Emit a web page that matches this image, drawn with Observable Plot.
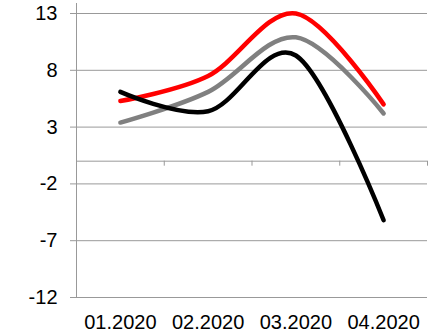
<!DOCTYPE html>
<html>
<head>
<meta charset="utf-8">
<script src="https://cdn.jsdelivr.net/npm/d3@7"></script>
<script src="https://cdn.jsdelivr.net/npm/@observablehq/plot@0.6"></script>
<style>
  html, body { margin: 0; padding: 0; background: #fff; }
</style>
</head>
<body>
<div id="chart"></div>
<script>
const months = ["01.2020", "02.2020", "03.2020", "04.2020"];
const redValues = [5.3, 7.5, 13.0, 5.0];
const grayValues = [3.4, 6.1, 10.9, 4.2];
const blackValues = [6.1, 4.4, 9.3, -5.2];
const yTicks = [-12, -7, -2, 3, 8, 13];

const series = [
  {name: "red", color: "#ff0000", values: redValues},
  {name: "gray", color: "#808080", values: grayValues},
  {name: "black", color: "#000000", values: blackValues}
];
const rows = series.flatMap(s => s.values.map((v, i) => ({series: s.name, color: s.color, i, v})));
const bounds = d3.range(months.length + 1).map(k => k - 0.5);

const chart = Plot.plot({
  width: 436,
  height: 332,
  marginLeft: 76,
  marginRight: 9,
  marginTop: 13,
  marginBottom: 35,
  style: {fontFamily: "'Liberation Sans', Arial, sans-serif", fontSize: "20px", color: "#000", background: "#fff"},
  x: {type: "linear", domain: [-0.5, months.length - 0.5]},
  y: {domain: [-12, 13]},
  marks: [
    Plot.gridY(yTicks, {stroke: "#999", strokeOpacity: 1}),
    Plot.axisY({ticks: yTicks, tickFormat: d => String(d), tickSize: 6, tickPadding: 13, stroke: "#999", label: null, fontSize: 20}),
    Plot.axisX({ticks: d3.range(months.length), tickFormat: i => months[i], tickSize: 0, tickPadding: 17, label: null, fontSize: 20}),
    Plot.frame({anchor: "left", stroke: "#999", insetTop: -10}),
    Plot.ruleY([0], {stroke: "#999"}),
    Plot.ruleX(bounds, {x: d => d, y1: 0, y2: 0, insetBottom: -5, stroke: "#999"}),
    ...series.map(s => Plot.line(rows.filter(r => r.series === s.name), {
      x: "i", y: "v", stroke: s.color, strokeWidth: 4.5, curve: "cardinal"
    }))
  ]
});
document.getElementById("chart").appendChild(chart);
</script>
</body>
</html>
